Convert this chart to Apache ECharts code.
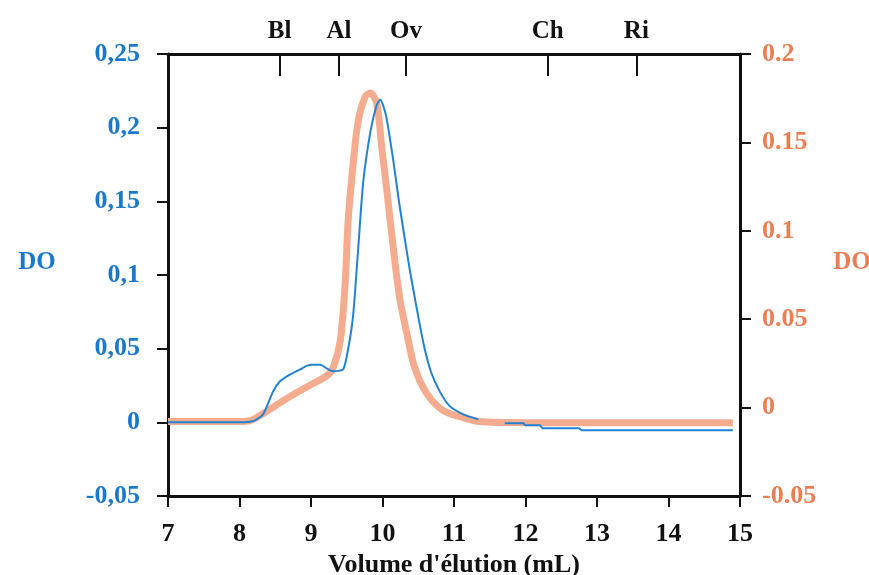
<!DOCTYPE html>
<html>
<head>
<meta charset="utf-8">
<script src="https://cdn.jsdelivr.net/npm/echarts@6/dist/echarts.min.js"></script>
<style>
  html, body { margin: 0; padding: 0; background: #ffffff; }
  #chart { width: 869px; height: 575px; }
</style>
</head>
<body>
<div id="chart"></div>
<script>
// Elution volume (mL) and optical density
const blueX = [7.0, 7.5, 8.0, 8.2, 8.33, 8.47, 8.57, 8.71, 8.85, 8.99, 9.13, 9.22, 9.31, 9.45, 9.52, 9.59, 9.66, 9.73, 9.83, 9.92, 9.97, 10.05, 10.15, 10.23, 10.31, 10.38, 10.48, 10.58, 10.68, 10.8, 10.94, 11.13, 11.34, 11.5, 11.71, 11.97, 12.0, 12.2, 12.24, 12.75, 12.78, 14.9];
const blueY = [0, 0, 0, 0.001, 0.0054, 0.021, 0.028, 0.0325, 0.036, 0.039, 0.039, 0.0366, 0.0346, 0.036, 0.05, 0.073, 0.118, 0.163, 0.197, 0.2156, 0.219, 0.208, 0.178, 0.15, 0.125, 0.104, 0.077, 0.052, 0.034, 0.021, 0.011, 0.0054, 0.002, null, -0.0007, -0.0007, -0.002, -0.002, -0.004, -0.004, -0.0054, -0.0054];

const orangeX = [7.0, 8.0, 8.15, 8.33, 8.57, 8.8, 9.03, 9.22, 9.31, 9.41, 9.48, 9.52, 9.59, 9.66, 9.76, 9.83, 9.92, 9.99, 10.06, 10.15, 10.24, 10.34, 10.45, 10.62, 10.85, 11.13, 11.36, 12.0, 14.9];
const orangeY = [-0.0079, -0.0079, -0.0074, -0.0034, 0.0028, 0.0085, 0.0136, 0.018, 0.0226, 0.038, 0.072, 0.106, 0.138, 0.162, 0.176, 0.178, 0.172, 0.147, 0.123, 0.0905, 0.062, 0.042, 0.0226, 0.0079, -0.0017, -0.0057, -0.0079, -0.0085, -0.0085];

// Calibration markers on the top axis
const markerValues = [8.56, 9.39, 10.33, 12.31, 13.55];
const markerLabels = ['Bl', 'Al', 'Ov', 'Ch', 'Ri'];

const xTickMin = 7, xTickMax = 15, xTickStep = 1;
const leftMin = -0.05, leftMax = 0.25, rightMin = -0.05, rightMax = 0.2, yStep = 0.05;

const blueData = blueX.map((x, i) => [x, blueY[i]]);
const orangeData = orangeX.map((x, i) => [x, orangeY[i]]);

const FONT = '"Liberation Serif", "DejaVu Serif", serif';
const BLUE = '#1f82d4';
const BLUE_TXT = '#1a78cc';
const ORANGE = '#f5ac8e';
const ORANGE_TXT = '#ee7d52';
const BLACK = '#111111';

const chart = echarts.init(document.getElementById('chart'), null, { renderer: 'canvas' });

const axisLineStyle = { show: true, onZero: false, lineStyle: { color: BLACK, width: 3 } };
const tickStyle = { show: true, length: 11, lineStyle: { color: BLACK, width: 2 } };

chart.setOption({
  animation: false,
  backgroundColor: '#ffffff',
  grid: { left: 168, right: 129, top: 54, bottom: 79, containLabel: false, outerBoundsMode: 'none' },
  xAxis: [
    {
      type: 'value', position: 'bottom', min: xTickMin, max: xTickMax, interval: xTickStep,
      axisLine: axisLineStyle, axisTick: tickStyle, splitLine: { show: false },
      axisLabel: { color: BLACK, fontSize: 26, fontFamily: FONT, fontWeight: 'bold', margin: 25 },
      name: "Volume d'élution (mL)", nameLocation: 'middle', nameGap: 55,
      nameTextStyle: { color: BLACK, fontSize: 26, fontFamily: FONT, fontWeight: 'bold' }
    },
    {
      type: 'value', position: 'top', min: xTickMin, max: xTickMax,
      axisLine: axisLineStyle,
      axisTick: { show: true, inside: true, length: 22, customValues: markerValues, lineStyle: { color: BLACK, width: 2 } },
      splitLine: { show: false },
      axisLabel: {
        show: true, customValues: markerValues, color: BLACK, fontSize: 25, fontFamily: FONT, fontWeight: 'bold', margin: 10,
        formatter: function (v) {
          for (let i = 0; i < markerValues.length; i++) {
            if (Math.abs(markerValues[i] - v) < 1e-6) return markerLabels[i];
          }
          return '';
        }
      }
    }
  ],
  yAxis: [
    {
      type: 'value', position: 'left', min: leftMin, max: leftMax, interval: yStep,
      axisLine: axisLineStyle, axisTick: tickStyle, splitLine: { show: false },
      axisLabel: {
        color: BLUE_TXT, fontSize: 26, fontFamily: FONT, fontWeight: 'bold', margin: 28,
        formatter: v => String(+v.toFixed(2)).replace('.', ',')
      },
      name: 'DO', nameLocation: 'middle', nameRotate: 0, nameGap: 131,
      nameTextStyle: { color: BLUE_TXT, fontSize: 25, fontFamily: FONT, fontWeight: 'bold', align: 'center', verticalAlign: 'bottom' }
    },
    {
      type: 'value', position: 'right', min: rightMin, max: rightMax, interval: yStep,
      axisLine: axisLineStyle, axisTick: tickStyle, splitLine: { show: false },
      axisLabel: {
        color: ORANGE_TXT, fontSize: 26, fontFamily: FONT, fontWeight: 'bold', margin: 22,
        formatter: v => String(+v.toFixed(2))
      },
      name: 'DO', nameLocation: 'middle', nameRotate: 0, nameGap: 112,
      nameTextStyle: { color: ORANGE_TXT, fontSize: 25, fontFamily: FONT, fontWeight: 'bold', align: 'center', verticalAlign: 'bottom' }
    }
  ],
  series: [
    {
      type: 'line', xAxisIndex: 0, yAxisIndex: 1, data: orangeData, symbol: 'none', smooth: 0.3,
      lineStyle: { color: ORANGE, width: 7 }, z: 2
    },
    {
      type: 'line', xAxisIndex: 0, yAxisIndex: 0, data: blueData, symbol: 'none', smooth: 0.2, connectNulls: false,
      lineStyle: { color: BLUE, width: 2 }, z: 3
    }
  ]
});
</script>
</body>
</html>
